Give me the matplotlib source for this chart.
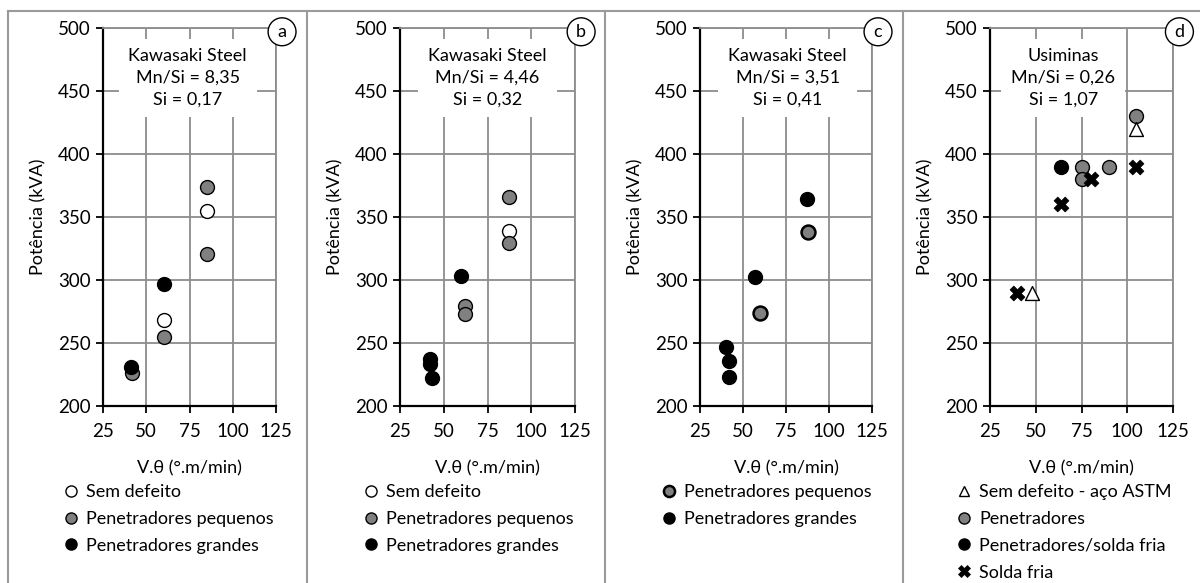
import matplotlib.pyplot as plt
from matplotlib.lines import Line2D
import numpy as np

plt.rcParams['font.family'] = ['Lato', 'DejaVu Sans']

# panel a - Kawasaki Steel, Mn/Si = 8,35
a_sem_x = [85, 60]
a_sem_y = [355, 268]
a_peq_x = [85, 85, 60, 42]
a_peq_y = [374, 321, 255, 226]
a_gra_x = [60, 41]
a_gra_y = [297, 231]

# panel b - Kawasaki Steel, Mn/Si = 4,46
b_sem_x = [87]
b_sem_y = [339]
b_peq_x = [87, 87, 62, 62]
b_peq_y = [366, 329, 279, 273]
b_gra_x = [60, 42, 42, 43]
b_gra_y = [303, 237, 233, 222]

# panel c - Kawasaki Steel, Mn/Si = 3,51
c_peq_x = [88, 60]
c_peq_y = [338, 274]
c_gra_x = [87, 57, 40, 42, 42]
c_gra_y = [364, 302, 247, 236, 223]

# panel d - Usiminas
d_astm_x = [105, 48]
d_astm_y = [420, 290]
d_pen_x = [105, 75, 75, 90]
d_pen_y = [430, 390, 380, 390]
d_pens_x = [64]
d_pens_y = [390]
d_sol_x = [80, 64, 105, 40]
d_sol_y = [380, 360, 390, 290]

x_ticks = [25, 50, 75, 100, 125]
y_ticks = [200, 250, 300, 350, 400, 450, 500]

titles = ["Kawasaki Steel\nMn/Si = 8,35\nSi = 0,17",
          "Kawasaki Steel\nMn/Si = 4,46\nSi = 0,32",
          "Kawasaki Steel\nMn/Si = 3,51\nSi = 0,41",
          "Usiminas\nMn/Si = 0,26\nSi = 1,07"]
letters = ["a", "b", "c", "d"]

GRAY = "#808080"
GRID = "#8c8c8c"
W, H = 1200, 583
FS = 13

fig = plt.figure(figsize=(12, 5.83), dpi=100)

# axes boxes in pixels: left, right
boxes = [(103, 276), (400, 575), (700, 872), (990, 1173)]
top_px, bot_px = 28, 406
title_xc = [0.49, 0.50, 0.51, 0.40]

axes = []
for i, (l, r) in enumerate(boxes):
    ax = fig.add_axes([l / W, 1 - bot_px / H, (r - l) / W, (bot_px - top_px) / H])
    ax.set_xlim(25, 125)
    ax.set_ylim(200, 500)
    ax.set_xticks(x_ticks)
    ax.set_yticks(y_ticks)
    ax.set_xticklabels([str(v) for v in x_ticks])
    ax.grid(True, color=GRID, lw=1.3, zorder=0)
    ax.set_axisbelow(True)
    for s in ["top", "right"]:
        ax.spines[s].set_color(GRID)
        ax.spines[s].set_linewidth(1.3)
    for s in ["left", "bottom"]:
        ax.spines[s].set_color("black")
        ax.spines[s].set_linewidth(1.6)
    ax.tick_params(direction="out", length=5, width=1.3, labelsize=13.5)
    ax.tick_params(axis="x", pad=7)
    ax.tick_params(axis="y", pad=4)
    ax.set_ylabel("Potência (kVA)", fontsize=FS, labelpad=8)
    ax.set_xlabel("V.\u03b8 (°.m/min)", fontsize=FS, labelpad=15)
    ax.text(title_xc[i], 0.868, titles[i], transform=ax.transAxes, ha="center",
            va="center", fontsize=FS, linespacing=1.42, zorder=5,
            bbox=dict(boxstyle="square,pad=0.55", fc="white", ec="none"))
    ax.text(1.035, 0.99, letters[i], transform=ax.transAxes, ha="center",
            va="center", fontsize=13, zorder=6, clip_on=False,
            bbox=dict(boxstyle="circle,pad=0.33", fc="white", ec="black", lw=1))
    axes.append(ax)

ms = 100
kw = dict(edgecolors="black", linewidths=1, zorder=3, clip_on=False)

ax = axes[0]
ax.scatter(a_sem_x, a_sem_y, s=ms, c="white", **kw)
ax.scatter(a_peq_x, a_peq_y, s=ms, c=GRAY, **kw)
ax.scatter(a_gra_x, a_gra_y, s=ms, c="black", **kw)

ax = axes[1]
ax.scatter(b_sem_x, b_sem_y, s=ms, c="white", **kw)
ax.scatter(b_peq_x, b_peq_y, s=ms, c=GRAY, **kw)
ax.scatter(b_gra_x, b_gra_y, s=ms, c="black", **kw)

ax = axes[2]
ax.scatter(c_peq_x, c_peq_y, s=ms, c=GRAY, edgecolors="black", linewidths=1.8, zorder=3)
ax.scatter(c_gra_x, c_gra_y, s=ms, c="black", **kw)

ax = axes[3]
ax.scatter(d_pen_x, d_pen_y, s=ms, c=GRAY, **kw)
ax.scatter(d_pens_x, d_pens_y, s=ms, c="black", **kw)
ax.scatter(d_astm_x, d_astm_y, s=ms, c="white", marker="^", edgecolors="black",
           linewidths=1, zorder=4)
ax.scatter(d_sol_x, d_sol_y, s=115, c="black", marker="X", edgecolors="black",
           linewidths=0.5, zorder=5)


def handle(marker, fc, mew=1.0, size=8):
    return Line2D([], [], ls="none", marker=marker, markersize=size,
                  markerfacecolor=fc, markeredgecolor="black", markeredgewidth=mew)


legends = [
    ([handle("o", "white"), handle("o", GRAY), handle("o", "black")],
     ["Sem defeito", "Penetradores pequenos", "Penetradores grandes"]),
    ([handle("o", "white"), handle("o", GRAY), handle("o", "black")],
     ["Sem defeito", "Penetradores pequenos", "Penetradores grandes"]),
    ([handle("o", GRAY, 1.8), handle("o", "black")],
     ["Penetradores pequenos", "Penetradores grandes"]),
    ([handle("^", "white", 1.0, 7), handle("o", GRAY), handle("o", "black"),
      handle("X", "black", 0.5, 9)],
     ["Sem defeito - aço ASTM", "Penetradores", "Penetradores/solda fria", "Solda fria"]),
]
leg_x = [62, 362, 660, 955]
for i, (hs, labs) in enumerate(legends):
    axes[i].legend(hs, labs, loc="upper left", bbox_to_anchor=(leg_x[i] / W, 1 - 484 / H),
                   bbox_transform=fig.transFigure, frameon=False, fontsize=FS,
                   handlelength=1.0, handletextpad=0.35, labelspacing=0.6,
                   borderpad=0, borderaxespad=0)

# panel frames
line_kw = dict(color="#9a9a9a", lw=1.5, transform=fig.transFigure)
fig.add_artist(Line2D([8 / W, 1], [1 - 11 / H, 1 - 11 / H], **line_kw))
for xp in [8, 307, 605, 903]:
    fig.add_artist(Line2D([xp / W, xp / W], [0, 1 - 11 / H], **line_kw))

fig.savefig("out.png", dpi=100)
